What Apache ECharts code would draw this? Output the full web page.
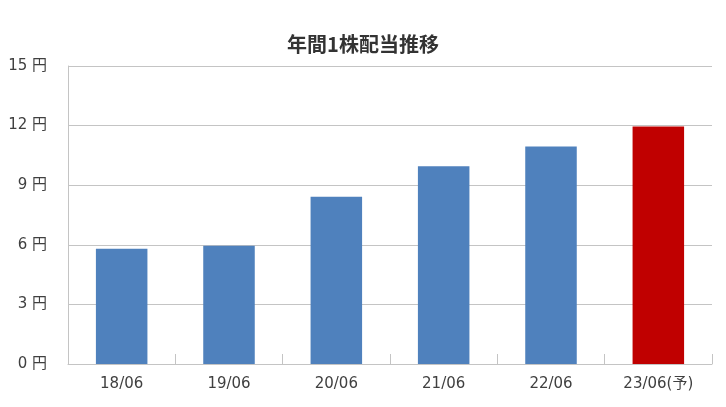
<!DOCTYPE html>
<html>
<head>
<meta charset="utf-8">
<script src="https://cdn.jsdelivr.net/npm/echarts@6/dist/echarts.min.js"></script>
<style>
  html, body { margin: 0; padding: 0; background: #fff; }
  #chart { width: 726px; height: 407px; }
</style>
</head>
<body>
<div id="chart"></div>
<script>
// 年間1株配当推移 — values
var categories = ['18/06', '19/06', '20/06', '21/06', '22/06', '23/06(予)'];
var dividends = [5.8, 5.95, 8.42, 9.95, 10.95, 11.95];
var forecast = [false, false, false, false, false, true];
var yTicks = { min: 0, max: 15, interval: 3 };

// wide Latin digits like the original, CJK glyphs fall back to Noto
var font = "'DejaVu Sans', 'Noto Sans CJK JP', sans-serif";
var titleFont = "'Noto Sans CJK JP', sans-serif";
var ink = '#404040', grid = '#c4c4c4';

var chart = echarts.init(document.getElementById('chart'), null, { renderer: 'canvas' });
chart.setOption({
  animation: false,
  textStyle: { fontFamily: font },
  title: {
    text: '年間1株配当推移', left: 'center', top: 29,
    textStyle: { fontSize: 20, fontWeight: 'bold', color: '#333', fontFamily: titleFont }
  },
  grid: { left: 68, right: 14, top: 66, bottom: 43, containLabel: false },
  xAxis: {
    type: 'category', data: categories, boundaryGap: true,
    axisLine: { lineStyle: { color: grid, width: 1 } },
    axisTick: { show: true, inside: true, length: 10, lineStyle: { color: grid } },
    axisLabel: { color: ink, fontSize: 15, margin: 13, fontFamily: font }
  },
  yAxis: {
    type: 'value', min: yTicks.min, max: yTicks.max, interval: yTicks.interval,
    axisLine: { show: true, lineStyle: { color: grid } },
    axisTick: { show: false },
    splitLine: { lineStyle: { color: grid } },
    axisLabel: { color: ink, fontSize: 15, margin: 21, fontFamily: font,
      formatter: function (v) { return v + ' 円'; } }
  },
  series: [{
    type: 'bar', barWidth: '48%',
    data: dividends.map(function (v, i) {
      return { value: v, itemStyle: { color: forecast[i] ? '#C00000' : '#4F81BD' } };
    })
  }]
});
</script>
</body>
</html>
